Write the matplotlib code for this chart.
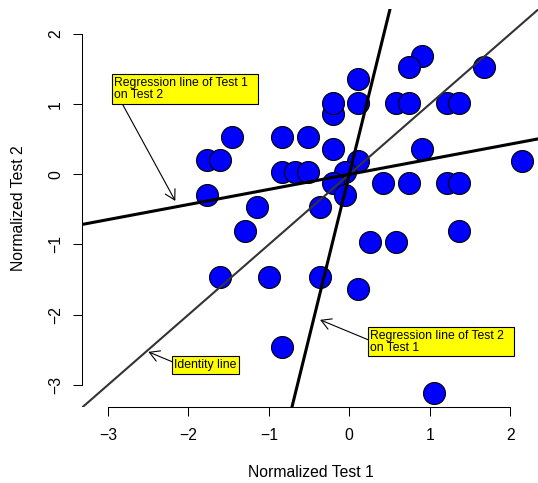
import numpy as np
import matplotlib.pyplot as plt

plt.rcParams['font.family'] = ['Liberation Sans', 'DejaVu Sans']

# normalized scores
test1 = [0.901, 0.743, 1.678, 0.113, -0.205, -0.205, 0.113, 0.581, 0.743, 1.219,
         1.364, -1.460, -0.831, -0.516, -0.205, 0.901, -1.770, -1.614, 0.113, 2.150,
         -0.831, -0.673, -0.516, -0.052, -0.205, 0.424, 0.743, 1.219, 1.364, -1.770,
         -0.052, -1.142, -0.363, -1.303, 0.258, 0.581, 1.364, -1.614, -0.993, -0.363,
         0.113, -0.831, 1.053]
test2 = [1.687, 1.526, 1.526, 1.355, 0.860, 1.021, 1.021, 1.021, 1.021, 1.021,
         1.021, 0.528, 0.528, 0.528, 0.362, 0.362, 0.205, 0.205, 0.191, 0.191,
         0.038, 0.038, 0.038, 0.038, -0.130, -0.130, -0.130, -0.130, -0.130, -0.293,
         -0.293, -0.464, -0.464, -0.802, -0.967, -0.967, -0.802, -1.466, -1.466, -1.466,
         -1.632, -2.454, -3.110]

r_value = 0.215   # correlation, slope of the flatter line
ticks = [-3, -2, -1, 0, 1, 2]

x = np.array(test1)
y = np.array(test2)
lo = min(x.min(), y.min())
hi = max(x.max(), y.max())
pad = 0.04 * (hi - lo)

fig = plt.figure(figsize=(5.38, 4.83), dpi=100)
ax = fig.add_axes([0.153, 0.1567, 0.849, 0.8253])

ax.scatter(x, y, s=250, c='#0000ff', edgecolors='black', linewidths=0.8, zorder=2)

ax.axline((0, 0), slope=1, color='#333333', lw=1.5, zorder=3)
ax.axline((0, 0), slope=r_value, color='black', lw=2.2, zorder=3)
ax.axline((0, 0), slope=1 / r_value, color='black', lw=2.2, zorder=3)

ax.set_xlim(lo - pad, hi + pad)
ax.set_ylim(lo - pad, hi + pad)

for side in ['top', 'right']:
    ax.spines[side].set_visible(False)
ax.spines['bottom'].set_bounds(ticks[0], ticks[-1])
ax.spines['left'].set_bounds(ticks[0], ticks[-1])
ax.spines['bottom'].set_linewidth(0.75)
ax.spines['left'].set_linewidth(0.75)

ax.set_xticks(ticks)
ax.set_yticks(ticks)
ax.set_yticklabels([str(t).replace('-', '\u2212') for t in ticks], rotation=90, va='center')
ax.tick_params(direction='out', length=6.8, width=0.75, labelsize=11.3)
ax.tick_params(axis='x', pad=8)
ax.tick_params(axis='y', pad=7)

ax.set_xlabel('Normalized Test 1', fontsize=11.3)
ax.set_ylabel('Normalized Test 2', fontsize=11.3)
ax.xaxis.set_label_coords(0.5, -0.145)
ax.yaxis.set_label_coords(-0.124, 0.5)

box = dict(boxstyle='square,pad=0.22', fc='#ffff00', ec='black', lw=0.8)
arrow = dict(arrowstyle='->,head_length=0.7,head_width=0.4', color='black', lw=0.8,
             shrinkA=0, shrinkB=0)

ax.text(-2.922, 1.387, 'Regression line of Test 1  \non Test 2', fontsize=8.8,
        ha='left', va='top', linespacing=1.0, bbox=box, zorder=5)
ax.annotate('', xy=(-2.164, -0.379), xytext=(-2.822, 1.002), arrowprops=arrow,
            annotation_clip=False)

ax.text(0.261, -2.212, 'Regression line of Test 2  \non Test 1', fontsize=8.8,
        ha='left', va='top', linespacing=1.0, bbox=box, zorder=5)
ax.annotate('', xy=(-0.363, -2.074), xytext=(0.237, -2.359), arrowprops=arrow,
            annotation_clip=False)

ax.text(-2.176, -2.630, 'Identity line', fontsize=8.8,
        ha='left', va='top', bbox=box, zorder=5)
ax.annotate('', xy=(-2.499, -2.530), xytext=(-2.201, -2.672), arrowprops=arrow,
            annotation_clip=False)

fig.savefig('out.png', dpi=100)
